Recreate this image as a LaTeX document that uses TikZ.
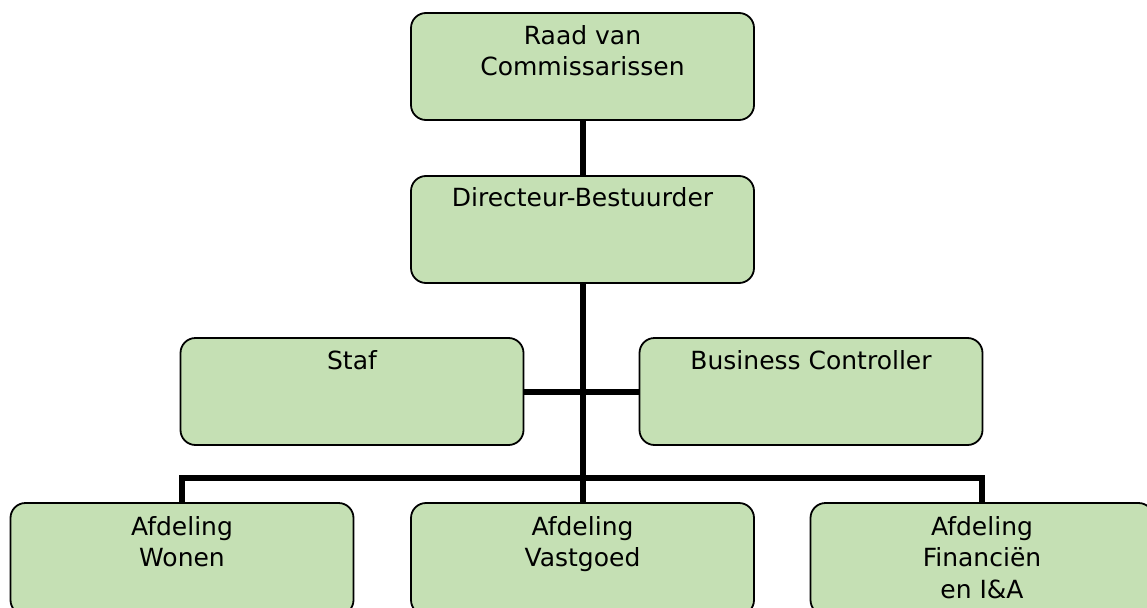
\documentclass[tikz,border=0pt]{standalone}
\usepackage{fontspec}
\setmainfont{DejaVu Sans}
\definecolor{boxgreen}{HTML}{C5E0B4}
\begin{document}
\begin{tikzpicture}[x=1pt,y=-1pt,
  box/.style={draw=black, line width=1.8pt, fill=boxgreen, rounded corners=15pt,
    minimum width=343pt, minimum height=107pt, inner sep=0pt},
  bbox/.style={box, minimum height=112pt},
  txt/.style={anchor=north, inner sep=0pt, align=center,
    font=\fontsize{25}{31.5}\selectfont},
  conn/.style={line width=6pt, line join=miter, line cap=butt}]
\useasboundingbox (0,0) rectangle (1147,607);
% boxes
\node[box] (rvc) at (582.5,66.5) {};
\node[box] (dir) at (582.5,229.5) {};
\node[box] (staf) at (352,391.5) {};
\node[box] (bc) at (811,391.5) {};
\node[bbox] (won) at (182,559) {};
\node[bbox] (vas) at (582.5,559) {};
\node[bbox] (fin) at (982,559) {};
% connectors
\coordinate (jn) at (582.5,478);
\draw[conn] (rvc.south) -- (dir.north);
\draw[conn] (dir.south) -- (jn);
\draw[conn] (staf.east) -- (bc.west);
\draw[conn] (won.north) |- (jn) -| (fin.north);
\draw[conn] (jn) -- (vas.north);
% texts
\node[txt] (trvc) at (rvc.north) {\rule{0pt}{32pt}Raad van\\Commissarissen};
\node[txt] (tdir) at (dir.north) {\rule{0pt}{31pt}Directeur-Bestuurder};
\node[txt] (tstaf) at (staf.north) {\rule{0pt}{32pt}Staf};
\node[txt] (tbc) at (bc.north) {\rule{0pt}{32pt}Business Controller};
\node[txt] (twon) at (won.north) {\rule{0pt}{33pt}Afdeling\\Wonen};
\node[txt] (tvas) at (vas.north) {\rule{0pt}{33pt}Afdeling\\Vastgoed};
\node[txt] (tfin) at (fin.north) {\rule{0pt}{33pt}Afdeling\\Financiën\\en I\&A};
\end{tikzpicture}
\end{document}
